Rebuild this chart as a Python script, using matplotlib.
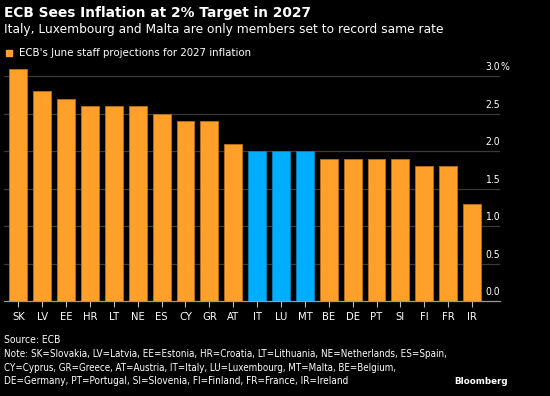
import matplotlib
matplotlib.use("Agg")
import matplotlib.pyplot as plt
from matplotlib import font_manager as fm

countries = ["SK", "LV", "EE", "HR", "LT", "NE", "ES", "CY", "GR", "AT",
             "IT", "LU", "MT", "BE", "DE", "PT", "SI", "FI", "FR", "IR"]
values = [3.1, 2.8, 2.7, 2.6, 2.6, 2.6, 2.5, 2.4, 2.4, 2.1,
          2.0, 2.0, 2.0, 1.9, 1.9, 1.9, 1.9, 1.8, 1.8, 1.3]
highlight = ["IT", "LU", "MT"]
yticks = [0.0, 0.5, 1.0, 1.5, 2.0, 2.5, 3.0]

title = "ECB Sees Inflation at 2% Target in 2027"
subtitle = "Italy, Luxembourg and Malta are only members set to record same rate"
legend_label = "ECB's June staff projections for 2027 inflation"
source = "Source: ECB"
note_lines = [
    "Note: SK=Slovakia, LV=Latvia, EE=Estonia, HR=Croatia, LT=Lithuania, NE=Netherlands, ES=Spain,",
    "CY=Cyprus, GR=Greece, AT=Austria, IT=Italy, LU=Luxembourg, MT=Malta, BE=Belgium,",
    "DE=Germany, PT=Portugal, SI=Slovenia, FI=Finland, FR=France, IR=Ireland",
]

ORANGE = "#FFA02A"
BLUE = "#00AEFF"
BG = "#000000"

names = {f.name for f in fm.fontManager.ttflist}
if "Liberation Sans Narrow" in names:
    NARROW = dict(family="Liberation Sans Narrow")
else:
    NARROW = dict(family="DejaVu Sans", fontstretch="condensed")

W, H = 550, 396
fig = plt.figure(figsize=(W / 100, H / 100), dpi=100, facecolor=BG)

def px(x, y):
    return x / W, 1 - y / H

ymax = 3.2
bottom_px = 301
top_px = bottom_px - ymax * 75.0
ax = fig.add_axes([4 / W, 1 - bottom_px / H, (500 - 4) / W, (bottom_px - top_px) / H])
ax.set_facecolor(BG)

xs = list(range(len(countries)))
colors = [BLUE if c in highlight else ORANGE for c in countries]
edges = ["#0a7fb8" if c in highlight else "#b5701c" for c in countries]
ax.bar(xs, values, width=0.75, color=colors, edgecolor=edges, linewidth=0.6, zorder=3)

ax.set_xlim(-0.6, 20.17)
ax.set_ylim(0, ymax)
for v in yticks[1:]:
    ax.axhline(v, color="#3a3a3a", lw=0.9, zorder=1)
ax.set_yticks([])
for s in ["top", "left", "right"]:
    ax.spines[s].set_visible(False)
ax.spines["bottom"].set_color("#9a9a9a")
ax.spines["bottom"].set_linewidth(0.9)
ax.spines["bottom"].set_zorder(4)
ax.set_xticks(xs)
ax.set_xticklabels(countries, fontsize=8, color="white", **NARROW)
ax.tick_params(axis="x", length=4, width=0.8, color="#bbbbbb", pad=4)

for v in yticks:
    ax.text(1.0, v + 0.05, f"{v:.1f}", transform=ax.get_yaxis_transform(), ha="right",
            va="bottom", color="white", fontsize=7.5, **NARROW)
ax.text(1.0, 3.0 + 0.05, "%", transform=ax.get_yaxis_transform(), ha="left",
        va="bottom", color="white", fontsize=7.5, **NARROW)

fig.canvas.draw()
r = fig.canvas.get_renderer()

def fit(x0, y, s, target_right, size, **kw):
    t = fig.text(*px(x0, y), s, va="center", ha="left", color="white", fontsize=size, **kw)
    w = t.get_window_extent(r).width
    t.set_fontsize(size * (target_right - x0) / w)
    return t

fit(4, 12.5, title, 313, 10, fontweight="bold", family="DejaVu Sans")
fit(4, 29, subtitle, 443, 10, family="DejaVu Sans")
fig.patches.append(plt.Rectangle(px(6, 56), 6 / W, 6 / H, transform=fig.transFigure,
                                 color=ORANGE, figure=fig))
fit(19, 53, legend_label, 251, 8, family="DejaVu Sans")
fit(4, 340, source, 60, 8, **NARROW)
fit(4, 354, note_lines[0], 445, 8, **NARROW)
fit(4, 368, note_lines[1], 395, 8, **NARROW)
fit(4, 381.5, note_lines[2], 350, 8, **NARROW)
fit(454, 381.5, "Bloomberg", 507, 8, fontweight="bold", family="DejaVu Sans")

fig.savefig("out.png", dpi=100, facecolor=BG)
